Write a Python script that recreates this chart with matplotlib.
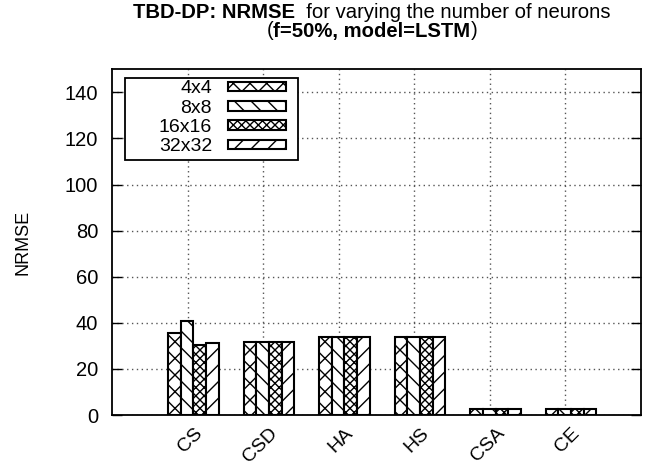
import matplotlib
matplotlib.use("Agg")
import matplotlib.pyplot as plt
import matplotlib.transforms as mtransforms
from matplotlib.patches import Rectangle
import numpy as np
from matplotlib.offsetbox import TextArea, HPacker, AnnotationBbox

plt.rcParams['font.family'] = ['Liberation Sans', 'DejaVu Sans']
plt.rcParams['hatch.linewidth'] = 1.0

categories = ["CS", "CSD", "HA", "HS", "CSA", "CE"]
series_names = ["4x4", "8x8", "16x16", "32x32"]
values = {
    "4x4":   [35.4, 31.6, 33.9, 33.9, 2.6, 2.6],
    "8x8":   [40.6, 31.6, 33.9, 33.9, 2.6, 2.6],
    "16x16": [30.2, 31.6, 33.9, 33.9, 2.6, 2.6],
    "32x32": [31.2, 31.6, 33.9, 33.9, 2.6, 2.6],
}
hatches = ["xx", "\\\\", "xxxx", "//"]
yticks = [0, 20, 40, 60, 80, 100, 120, 140]

fig = plt.figure(figsize=(6.5, 4.69), dpi=100)
ax = fig.add_axes([0.1723, 0.1151, 0.8134, 0.7371])

x = np.arange(len(categories))
w = 0.168
start = -0.258
for k, name in enumerate(series_names):
    ax.bar(x + start + k * w, values[name], width=w, align='edge',
           facecolor='white', edgecolor='black', linewidth=1.5,
           hatch=hatches[k], label=name, zorder=3)

ax.set_xlim(-1, 6)
ax.set_ylim(0, 150)
ax.set_yticks(yticks)
ax.set_xticks(x)
ax.set_xticklabels(categories, rotation=45, ha='right', va='top',
                   rotation_mode='anchor', fontsize=14)
ax.tick_params(axis='x', length=0, pad=7)
shift = mtransforms.ScaledTranslation(6 / 100, 0, fig.dpi_scale_trans)
for lab in ax.get_xticklabels():
    lab.set_transform(lab.get_transform() + shift)
ax.tick_params(axis='y', direction='in', length=7, width=1, labelsize=14.5,
               right=True, pad=10)
ax.grid(True, linestyle=(0, (1, 2.5)), color='#555555', linewidth=1.0, zorder=0)
for s in ax.spines.values():
    s.set_linewidth(1.3)
ax.set_ylabel("NRMSE", fontsize=13, labelpad=24)

# legend (key) box
ax.add_patch(Rectangle((0.0246, 0.738), 0.3274, 0.237, transform=ax.transAxes,
                       facecolor='white', edgecolor='black', linewidth=1.3,
                       zorder=4))
leg = ax.legend(loc='upper right', bbox_to_anchor=(0.329, 0.968), fontsize=14,
                markerfirst=False, frameon=False,
                handlelength=3.0, handleheight=0.4,
                labelspacing=0.12, borderpad=0.0, handletextpad=0.8,
                borderaxespad=0.0)
for t in leg.get_texts():
    t.set_ha('right')
leg.set_zorder(5)

# Title with mixed weights
fs = 14.6
l1 = HPacker(children=[
    TextArea("TBD-DP: NRMSE", textprops=dict(fontsize=fs, fontweight='bold')),
    TextArea("  for varying the number of neurons", textprops=dict(fontsize=fs)),
], align='baseline', pad=0, sep=0)
l2 = HPacker(children=[
    TextArea("(", textprops=dict(fontsize=fs)),
    TextArea("f=50%, model=LSTM", textprops=dict(fontsize=fs, fontweight='bold')),
    TextArea(")", textprops=dict(fontsize=fs)),
], align='baseline', pad=0, sep=0)
fig.add_artist(AnnotationBbox(l1, (0.572, 1 - 13 / 469), xycoords='figure fraction',
                              box_alignment=(0.5, 0.5), frameon=False))
fig.add_artist(AnnotationBbox(l2, (0.572, 1 - 31 / 469), xycoords='figure fraction',
                              box_alignment=(0.5, 0.5), frameon=False))

fig.savefig("out.png", dpi=100)
